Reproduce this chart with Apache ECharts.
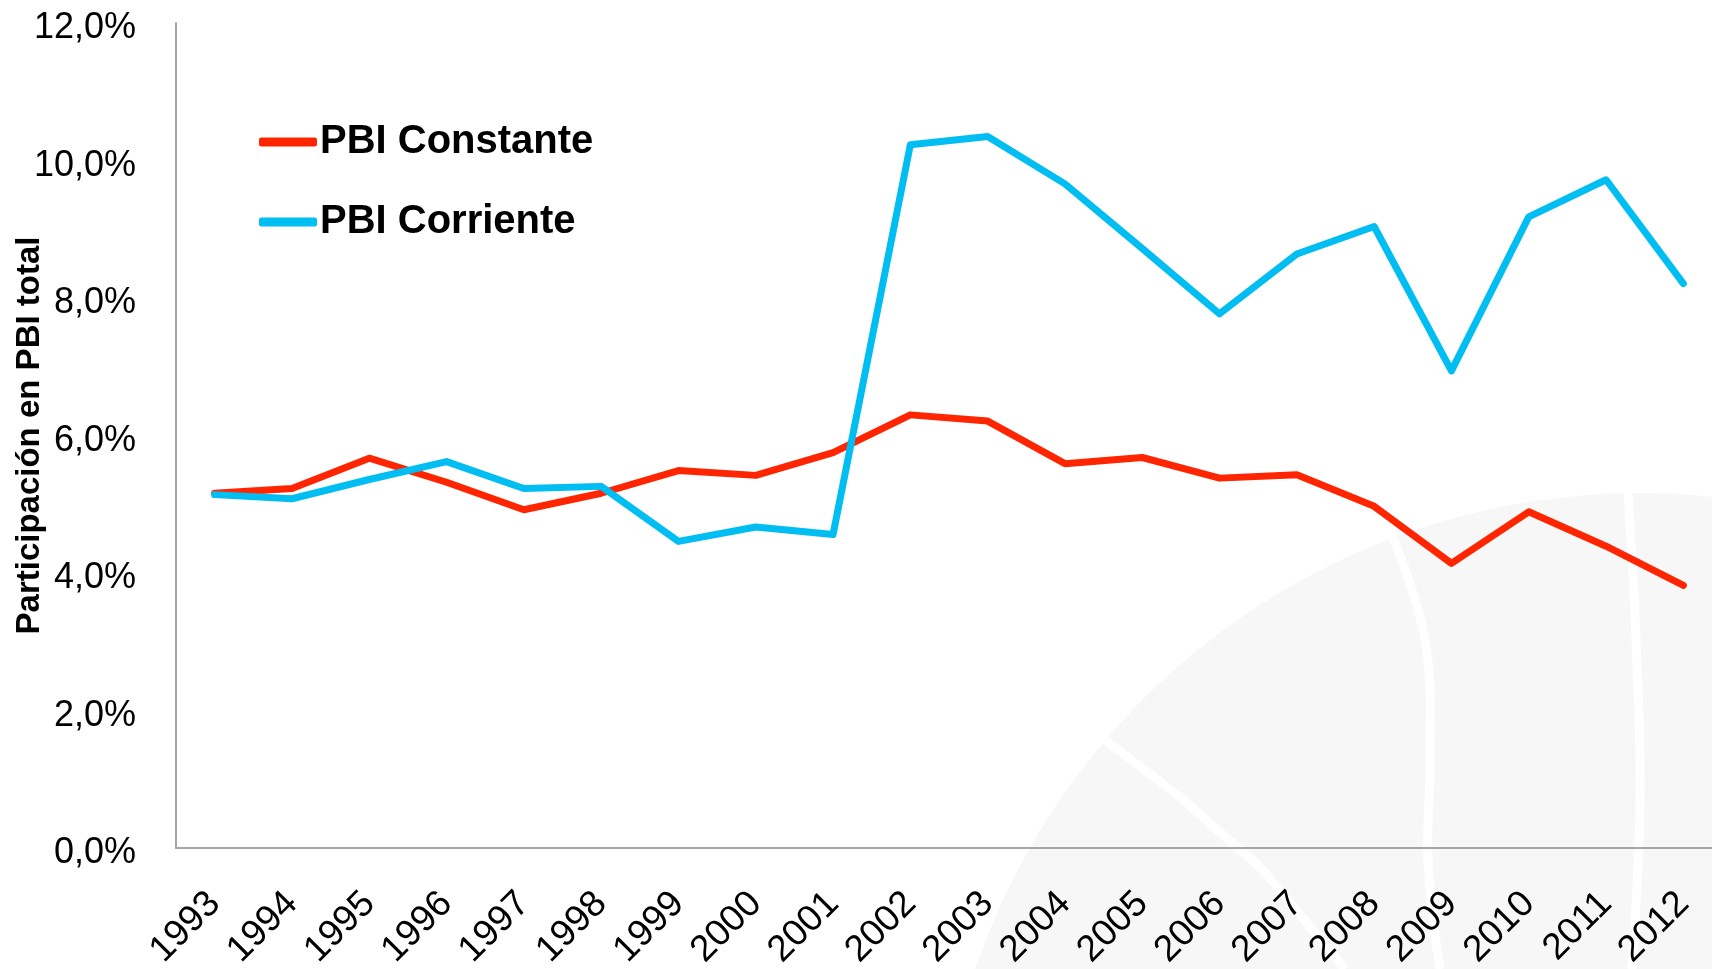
<!DOCTYPE html>
<html>
<head>
<meta charset="utf-8">
<script src="https://cdn.jsdelivr.net/npm/echarts@6/dist/echarts.min.js"></script>
<style>
  html, body { margin: 0; padding: 0; background: #fff; }
  #chart { width: 1712px; height: 969px; }
</style>
</head>
<body>
<div id="chart"></div>
<script>
// datos
var years = ['1993', '1994', '1995', '1996', '1997', '1998', '1999', '2000', '2001', '2002',
  '2003', '2004', '2005', '2006', '2007', '2008', '2009', '2010', '2011', '2012'];
var pbiConstante = [5.16, 5.23, 5.67, 5.32, 4.92, 5.16, 5.49, 5.42, 5.75, 6.30,
  6.21, 5.59, 5.68, 5.38, 5.43, 4.97, 4.14, 4.89, 4.39, 3.82];
var pbiCorriente = [5.14, 5.08, 5.36, 5.62, 5.23, 5.26, 4.46, 4.67, 4.56, 10.23,
  10.35, 9.66, 8.72, 7.77, 8.64, 9.04, 6.94, 9.18, 9.72, 8.21];
var yTicks = [0, 2, 4, 6, 8, 10, 12];

var chart = echarts.init(document.getElementById('chart'));

function pct(v) {
  return v.toFixed(1).replace('.', ',') + '%';
}

// el ultimo punto lleva una etiqueta blanca (casi invisible sobre el logo)
var constanteData = pbiConstante.map(function (v, i) {
  if (i === pbiConstante.length - 1) {
    return {
      value: v,
      label: {
        show: true, position: 'bottom', distance: 36,
        formatter: function (p) { return pct(p.value); },
        color: '#ffffff', fontSize: 38, fontFamily: 'Liberation Sans'
      }
    };
  }
  return v;
});

var option = {
  animation: false,
  backgroundColor: '#ffffff',
  // logo de fondo
  graphic: [
    { type: 'circle', z: -10, silent: true, shape: { cx: 1640, cy: 1195, r: 702 }, style: { fill: '#f7f7f7' } },
    { type: 'polyline', z: -9, silent: true, shape: { points: [[1092, 730], [1180, 797], [1262, 869], [1345, 969]] },
      style: { stroke: '#ffffff', lineWidth: 9, fill: null } },
    { type: 'polyline', z: -9, silent: true, shape: { smooth: 0.4, points: [[1390, 530], [1425, 640], [1430, 760], [1428, 860], [1440, 969]] },
      style: { stroke: '#ffffff', lineWidth: 9, fill: null } },
    { type: 'polyline', z: -9, silent: true, shape: { smooth: 0.4, points: [[1628, 492], [1636, 640], [1640, 800], [1632, 969]] },
      style: { stroke: '#ffffff', lineWidth: 9, fill: null } }
  ],
  legend: {
    orient: 'vertical',
    left: 254,
    top: 117,
    itemGap: 40,
    itemWidth: 58,
    itemHeight: 9,
    icon: 'roundRect',
    textStyle: { fontSize: 40, fontWeight: 'bold', color: '#000', fontFamily: 'Liberation Sans', padding: [0, 0, 0, -2] },
    data: ['PBI Constante', 'PBI Corriente']
  },
  grid: {
    left: 176,
    top: 23,
    width: 1546,
    height: 825,
    outerBoundsMode: 'none',
    containLabel: false
  },
  xAxis: {
    type: 'category',
    data: years,
    boundaryGap: true,
    axisLine: { show: true, lineStyle: { color: '#a6a6a6', width: 2 } },
    axisTick: { show: false },
    axisLabel: {
      rotate: 45, margin: 50, interval: 0,
      fontSize: 37, color: '#000', fontFamily: 'Liberation Sans'
    }
  },
  yAxis: {
    type: 'value',
    min: 0,
    max: 12,
    interval: 2,
    name: 'Participación en PBI total',
    nameLocation: 'middle',
    nameGap: 130,
    nameMoveOverlap: false,
    nameTextStyle: { fontSize: 33, fontWeight: 'bold', color: '#000', fontFamily: 'Liberation Sans' },
    axisLine: { show: true, lineStyle: { color: '#a6a6a6', width: 2 } },
    axisTick: { show: false },
    splitLine: { show: false },
    axisLabel: {
      margin: 40,
      fontSize: 36, color: '#000', fontFamily: 'Liberation Sans',
      formatter: function (v) { return yTicks.indexOf(v) >= 0 ? '{v|' + pct(v) + '}' : ''; },
      rich: {
        v: { fontSize: 36, color: '#000', fontFamily: 'Liberation Sans', padding: [11, 0, 0, 0] }
      }
    }
  },
  series: [
    {
      name: 'PBI Constante',
      type: 'line',
      data: constanteData,
      color: '#ff2500',
      showSymbol: false,
      symbol: 'none',
      lineStyle: { width: 7, cap: 'round', join: 'round' },
      z: 3
    },
    {
      name: 'PBI Corriente',
      type: 'line',
      data: pbiCorriente,
      color: '#00bdf2',
      showSymbol: false,
      symbol: 'none',
      lineStyle: { width: 7, cap: 'round', join: 'round' },
      z: 4
    }
  ]
};

chart.setOption(option);
</script>
</body>
</html>
